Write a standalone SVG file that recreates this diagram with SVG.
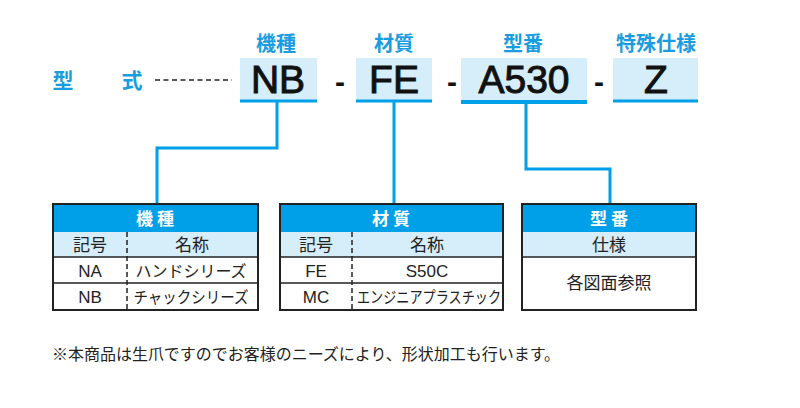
<svg xmlns="http://www.w3.org/2000/svg" width="800" height="408" viewBox="0 0 800 408">
<style>
.lbl{font-family:"Noto Sans CJK JP","Noto Sans",sans-serif;font-weight:700;fill:#1a9de0;font-size:20px;text-anchor:middle}
.lbl2{font-family:"Noto Sans CJK JP","Noto Sans",sans-serif;font-weight:700;fill:#1a9de0;font-size:21px;text-anchor:middle}
.code{font-family:"Liberation Sans",Arial,sans-serif;font-size:39px;fill:#111;stroke:#111;stroke-width:1;text-anchor:middle}
.dash{font-family:"Liberation Sans",Arial,sans-serif;font-size:30px;fill:#111;text-anchor:middle;font-weight:700}
.cbox{fill:#d6edfa}
.uline{stroke:#00a0e9;stroke-width:3}
.conn{fill:none;stroke:#00a0e9;stroke-width:3}
.hdr{fill:#00a0e9}
.sub{fill:#d6edfa}
.frame{fill:none;stroke:#222;stroke-width:2}
.row{stroke:#222;stroke-width:1.5}
.vdash{stroke:#222;stroke-width:1.5;stroke-dasharray:5,3}
.ht{font-family:"Noto Sans CJK JP",sans-serif;font-weight:700;fill:#fff;font-size:17px;text-anchor:middle}
.t{font-family:"Noto Sans CJK JP",sans-serif;fill:#222;font-size:16px;text-anchor:middle}
.th{font-family:"Noto Sans CJK JP",sans-serif;fill:#222;font-size:17px;text-anchor:middle}
.tl{font-family:"Liberation Sans",Arial,sans-serif;fill:#222;font-size:17px;text-anchor:middle}
.note{font-family:"Noto Sans CJK JP",sans-serif;fill:#222;font-size:15.5px}
</style>
<g id="title">
<text class="lbl2" x="63" y="88">型</text>
<text class="lbl2" x="132" y="88">式</text>
<line x1="155" y1="80" x2="232" y2="80" stroke="#222" stroke-width="1.5" stroke-dasharray="5,3.5"/>
</g>
<g id="code-NB">
<text class="lbl" x="276" y="51">機種</text>
<rect class="cbox" x="240" y="58" width="77" height="42"/>
<line class="uline" x1="240" y1="101" x2="317" y2="101"/>
<text class="code" x="278" y="93">NB</text>
</g>
<text class="dash" x="340" y="92">-</text>
<g id="code-FE">
<text class="lbl" x="394" y="51">材質</text>
<rect class="cbox" x="356" y="58" width="76" height="42"/>
<line class="uline" x1="356" y1="101" x2="432" y2="101"/>
<text class="code" x="394" y="93">FE</text>
</g>
<text class="dash" x="452" y="92">-</text>
<g id="code-A530">
<text class="lbl" x="523" y="51">型番</text>
<rect class="cbox" x="461" y="58" width="126" height="42"/>
<line class="uline" x1="461" y1="102" x2="587" y2="102" style="stroke-width:4"/>
<text class="code" x="524" y="93">A530</text>
</g>
<text class="dash" x="599" y="92">-</text>
<g id="code-Z">
<text class="lbl" x="656" y="51">特殊仕様</text>
<rect class="cbox" x="613" y="58" width="85" height="42"/>
<line class="uline" x1="613" y1="101" x2="698" y2="101"/>
<text class="code" x="656" y="93">Z</text>
</g>
<g id="connectors">
<polyline class="conn" points="277,102 277,148 157,148 157,205"/>
<polyline class="conn" points="394,102 394,205"/>
<polyline class="conn" points="526,103 526,169 610,169 610,205"/>
</g>
<g id="table-kishu">
<rect class="hdr" x="53" y="204" width="205" height="28"/>
<rect class="sub" x="53" y="232" width="205" height="25"/>
<line class="row" x1="53" y1="257" x2="258" y2="257"/>
<line class="row" x1="53" y1="283" x2="258" y2="283"/>
<line class="vdash" x1="127" y1="232" x2="127" y2="310"/>
<rect class="frame" x="53" y="204" width="205" height="106"/>
<text class="ht" x="155" y="225">機 種</text>
<text class="th" x="90" y="251">記号</text>
<text class="th" x="192" y="251">名称</text>
<text class="tl" x="90" y="277">NA</text>
<text class="t" x="191" y="277">ハンドシリーズ</text>
<text class="tl" x="90" y="303">NB</text>
<text class="t" x="191" y="303" textLength="115" lengthAdjust="spacingAndGlyphs">チャックシリーズ</text>
</g>
<g id="table-zaishitsu">
<rect class="hdr" x="280" y="204" width="223" height="28"/>
<rect class="sub" x="280" y="232" width="223" height="25"/>
<line class="row" x1="280" y1="257" x2="503" y2="257"/>
<line class="row" x1="280" y1="283" x2="503" y2="283"/>
<line class="vdash" x1="352" y1="232" x2="352" y2="310"/>
<rect class="frame" x="280" y="204" width="223" height="106"/>
<text class="ht" x="391" y="225">材 質</text>
<text class="th" x="316" y="251">記号</text>
<text class="th" x="427" y="251">名称</text>
<text class="tl" x="316" y="277">FE</text>
<text class="tl" x="427" y="277">S50C</text>
<text class="tl" x="316" y="303">MC</text>
<text class="t" x="429" y="303" textLength="144" lengthAdjust="spacingAndGlyphs">エンジニアプラスチック</text>
</g>
<g id="table-kataban">
<rect class="hdr" x="522" y="204" width="174" height="28"/>
<rect class="sub" x="522" y="232" width="174" height="25"/>
<line class="row" x1="522" y1="257" x2="696" y2="257"/>
<rect class="frame" x="522" y="204" width="174" height="106"/>
<text class="ht" x="609" y="225">型 番</text>
<text class="th" x="609" y="251">仕様</text>
<text class="th" x="609" y="289">各図面参照</text>
</g>
<text class="note" x="52" y="360" textLength="508" lengthAdjust="spacingAndGlyphs">※本商品は生爪ですのでお客様のニーズにより、形状加工も行います。</text>
</svg>
